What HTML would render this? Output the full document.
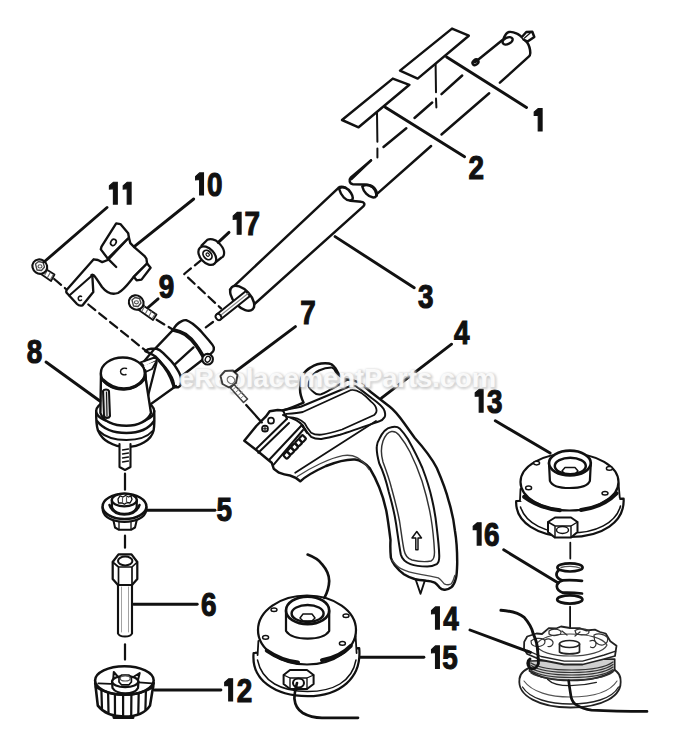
<!DOCTYPE html>
<html><head><meta charset="utf-8">
<style>
html,body{margin:0;padding:0;background:#fff;width:676px;height:750px;overflow:hidden}
svg{display:block}
.lb{font-family:"Liberation Sans",sans-serif;font-weight:bold;font-size:32.4px;fill:#111;stroke:#111;stroke-width:1.1px}
.wm{font-family:"Liberation Sans",sans-serif;font-weight:bold;font-size:26px;fill:#fff;fill-opacity:0.85}
.wmsh{font-family:"Liberation Sans",sans-serif;font-weight:bold;font-size:26px;fill:#fff;stroke:#b8b8b8;stroke-width:2px;fill-opacity:0.85;stroke-opacity:0.75}
</style></head>
<body>
<svg width="676" height="750" viewBox="0 0 676 750">
<g id="lines" fill="none" stroke="#111" stroke-width="2.46" stroke-linecap="round" stroke-linejoin="round">

<!-- ============ UPPER TUBE (part of shaft) ============ -->
<g id="uppertube">
  <!-- end cap -->
  <path d="M475,62.3 L503.4,39.2 C505,35 506.5,32.5 509,32 C511,31.6 514,32.3 517,33.7 C520,35 523,38.5 527,42.3 C529,45 530.2,50 530.3,53 C530.2,55 529.6,56 529,56.3 L499.9,82.7"/>
  <ellipse cx="475.5" cy="62.3" rx="3.2" ry="2.4" transform="rotate(-40 475.5 62.3)"/>
  <ellipse cx="507.6" cy="40.8" rx="5.3" ry="3.2" transform="rotate(-25 507.6 40.8)"/>
  <path d="M522.3,36.5 L526.3,32 L532.3,31.7 L534.3,37 L527.6,41.6 L523.5,39.5" fill="#fff"/><path d="M524.5,38 L530,33.2" stroke-width="1.23"/>
  <path d="M489.2,93.3 L441.5,134.5"/>
  <path d="M431.1,146 L376.2,194.6"/>
  <path d="M462.2,75.5 L441.5,94.2 M432.2,102.5 L414.5,118 M406.3,128.3 L383.5,147 M371,160.4 L351.4,179.1"/>
  <!-- break lobes -->
  <path d="M371,160.4 L350.9,177.4 C348.5,180 349.5,183.8 353,184.2 L364,184.5 C371,184 376,189 376.8,195.5 L376.2,194.6"/>
  <path d="M362.3,186.5 C366,183.5 373,185 376,190.5 C378,195 376,198 372.5,197.3 C368,196.5 363.5,192 362.3,186.5 Z"/>
</g>

<!-- decals -->
<path d="M452,28.6 L468.8,35.7 L417.7,78.6 L400,70.6 Z" fill="#fff"/>
<path d="M392.8,78.6 L409.4,84.8 L358.6,127.3 L342,120 Z" fill="#fff"/>
<path d="M435.6,64.2 L436,92.2 M436,98.6 L436.4,107.4" stroke-width="2"/>
<path d="M377,113 L377.4,141.8 M377.4,148.6 L377.4,157.4" stroke-width="2"/>

<!-- ============ TUBE 3 ============ -->
<g id="tube3">
  <path d="M230,289.8 L338.5,187.8 C340,186.5 343,186.5 345.7,187.8"/>
  <path d="M339,188.5 C343,185.5 348,188 351,193 C353.5,197 353.5,200 350.5,200.5 C346,201 341,196 339,188.5 Z"/>
  <path d="M350.5,200.7 L361.2,201.8 C364,202 365.5,204 363.3,206.4 L253.9,304.5"/>
  <ellipse cx="242.2" cy="298.3" rx="15.2" ry="8.3" transform="rotate(47 242.2 298.3)" fill="#fff"/>
  <!-- shaft -->
  <path d="M220.5,319.5 L250,296 L246,291 L216.5,314.5 Z" fill="#fff" stroke-width="2.13"/>
  <path d="M218.5,317 L248,293.5" stroke-width="1.01" stroke="#888"/>
  <ellipse cx="218.5" cy="317" rx="3.3" ry="2.6" transform="rotate(52 218.5 317)" fill="#fff" stroke-width="1.90"/>
</g>


<!-- ============ LEFT PARTS ============ -->
<g id="leftparts">
<!-- dashed guide lines -->
<g stroke-dasharray="9,5" stroke-width="2.24">
  <path d="M54.2,279 L66,289"/>
  <path d="M88.3,304.5 L145.7,350.7"/>
  <path d="M156.6,319.8 L172,329"/>
  <path d="M201.8,259.6 L184.2,274 L221,308.4"/>
  <path d="M213,322 L203.4,329.2"/>
  <path d="M125,473.7 L125,489.7" stroke-dasharray="none"/>
  <path d="M125,535.7 L125,547.7" stroke-dasharray="none"/>
  <path d="M125,644.4 L125,659.6" stroke-dasharray="none"/>
</g>

<!-- screw 11 -->
<g>
  <path d="M41,266 L54.5,274.5 L51,281 L38,272 Z" fill="#fff" stroke-width="1.79"/>
  <path d="M44,269 L41.5,273.5 M47,271 L44.5,275.5 M50,273 L47.5,277.5 M53,275 L50.5,279.5" stroke-width="1.12" stroke="#666" fill="none"/>
  <ellipse cx="39.8" cy="266.6" rx="7.6" ry="7" transform="rotate(35 39.8 266.6)" fill="#fff" stroke-width="2.13"/>
  <path d="M35.5,264 L38.5,261.5 L43,262.5 L44.5,267 L41.5,270.5 L37,270 Z" fill="none" stroke-width="1.34" stroke="#444"/>
  <ellipse cx="40" cy="266.4" rx="2" ry="1.6" fill="none" stroke-width="1.12" stroke="#555"/>
</g>

<!-- bracket 10 -->
<g fill="#fff" stroke-width="2.35">
  <path d="M128.9,237.5 L130.3,243.1 L134.5,247.3 L144.3,255.8 L146.4,258.6 L147.1,263.5 L133.8,276.8 C128,284 124,290 118,293 C112,295 106,292 102,287 L95.9,277.8 C94.5,275.5 92.5,274.5 91.5,275.1 L92.4,276.9 L93.3,292 L82.6,305.3 C80.5,306 78.5,305.5 77,304 L66.6,292.8 C66,291.5 66.2,290.5 67,289.5 L93.7,259.3 L97.9,260 L102.2,262.1 L107.8,260 Z"/>
  <path d="M147.1,263.5 L150.6,267.7 L141.5,279.6 L136.6,280.3 L133.8,276.8 Z"/>
  <path d="M116.2,223.4 L120.4,224.1 L128.2,233.3 L128.9,237.5 L107.8,258.6 L100.8,249.4 L101.5,246.6 Z"/>
  <path d="M107.8,258.6 L116.2,267" fill="none"/>
  <path d="M69.3,295.5 L91.5,276" fill="none" stroke-width="2.02"/>
  <ellipse cx="113.4" cy="242.4" rx="2.6" ry="3.3" transform="rotate(30 113.4 242.4)" fill="none" stroke-width="1.68"/>
  <path d="M81.5,296.5 C79.5,295.5 78,297 78.3,298.8 C78.6,300.5 80.5,301 81.5,300" fill="none" stroke-width="1.57"/>
</g>

<!-- nut 17 -->
<g fill="#fff">
  <path d="M201.5,245.6 L207.4,239.7 C210,238.5 215,239 218.6,242.7 C221,245 223.5,248 224,251.5 C224.5,255 223,257.5 221.6,257.5 L213.3,264 Z" stroke-width="2.24"/>
  <ellipse cx="207.3" cy="255.6" rx="10.8" ry="7" transform="rotate(48 207.3 255.6)" stroke-width="2.24"/>
  <ellipse cx="207.5" cy="255" rx="5.2" ry="3.8" transform="rotate(48 207.5 255)" fill="none" stroke-width="1.79"/>
  <ellipse cx="207.7" cy="254.6" rx="1.8" ry="1.4" transform="rotate(48 207.7 254.6)" fill="none" stroke-width="1.12"/>
</g>

<!-- screw 9 -->
<g>
  <path d="M138,302 L156.5,314.5 L153,320 L134.5,307 Z" fill="#fff" stroke-width="1.79"/>
  <path d="M141,304 L138.5,308.5 M144.5,306.5 L142,311 M148,309 L145.5,313.5 M151.5,311.5 L149,316 M155,314 L152.5,318" stroke-width="1.12" stroke="#666" fill="none"/>
  <ellipse cx="136.2" cy="302.5" rx="7.6" ry="7" transform="rotate(35 136.2 302.5)" fill="#fff" stroke-width="2.13"/>
  <path d="M132,300 L135,297.5 L139.5,298.5 L141,303 L138,306.5 L133.5,306 Z" fill="none" stroke-width="1.34" stroke="#444"/>
  <ellipse cx="136.4" cy="302.3" rx="2" ry="1.6" fill="none" stroke-width="1.12" stroke="#555"/>
</g>
<!-- coupling (gearhead upper) -->
<g fill="#fff">
  <!-- body cylinder -->
  <path d="M173.1,329.9 L155.9,347.9 L178.5,378.5 L202,360.2 Z" stroke="none"/>
  <path d="M173.1,329.9 L155.9,347.9 M202,360.2 L178.5,378.5 M193.5,347.4 L174.6,364.6" stroke-width="2.35"/>
  <!-- end collar -->
  <path d="M173.1,329.9 C175,326 178,323 181.3,321.4 C183,320.5 185,320 186.2,320.2 C188.5,321 190.5,322.3 192.7,323.8 C196,326.5 199,329 201.6,332 C204.5,335.5 208,339 210.6,342.5 C212,344 213.3,346 213.8,347.4 C214,349 213.8,350.5 213,351.5 C210,354.5 207.5,357 204.9,358.8 L203.2,356.4 C201,352.5 198.5,348.5 195.9,345 C193,341 189,337 185.3,334.4 C182,332.5 178,331 173.1,329.9 Z" stroke-width="2.46"/>
  <path d="M173.1,329.9 C178,331 182,332.5 185.3,334.4 C189,337 193,341 195.9,345 C198.5,348.5 201,352.5 203.2,356.4" fill="none" stroke-width="3.81"/>
  <circle cx="207.6" cy="359.2" r="5.3" stroke-width="2.13"/>
  <ellipse cx="207.8" cy="359.2" rx="2.4" ry="3" transform="rotate(30 207.8 359.2)" fill="none" stroke-width="1.34"/>
  <!-- lower collar -->
  <path d="M140.6,362.4 L156.6,356.8 L156.6,361 L144.6,367.2 Z" stroke-width="2.02"/>
  <path d="M143,366 L145.5,372 L152,369 L156.6,361" stroke-width="1.79"/>
  <path d="M145.4,370.4 L147,400 L156.6,362.4" fill="none" stroke-width="2.24"/>
  <path d="M145.4,351.2 C147,349.5 149,348.8 151,348.8 L156.6,348.8 C159,349.5 161,351 163,352.8 L171,360.8 C174,364 176,367 177.4,369.6 C179.5,373 180.8,376 181,378.4 C181.3,381 181,383.5 180.6,384.8 C180,386.5 179,387 178.2,387.2 L173.4,387.2 C174.3,385 174,383.5 173.4,381.6 C172.5,378.5 170.5,375 168.6,372 C166.5,369 164,366 161.4,363.2 C160,361 158,359 155.8,356.8 C152,354 148,352.5 145.4,351.2 Z" stroke-width="2.46"/>
  <path d="M159,360.8 C165,367 170,374 173.4,385.6" fill="none" stroke-width="2.69"/>
  <!-- arm -->
  <path d="M144.3,361 L154.3,349 M176,386 L149.5,405" fill="none" stroke-width="2.24"/>
</g>

<!-- gearhead 8 -->
<g fill="#fff">
  <!-- base rings -->
  <path d="M96.2,411 C96,420 96.5,426 98,430.5 C100.5,436 104,440 108.7,442.3 C114,445.5 120,447 126.4,447 C133,447 139,445.5 144.2,442.3 C149,439.5 152.5,435 153.6,430.5 C154.5,426 154.5,420 154.2,411 Z" stroke-width="2.4"/>
  <path d="M97,421 C104,430 114,433 126.4,433 C138,433 148,430 154,421" fill="none" stroke-width="2.4"/>
  <path d="M99,431 C106,438 116,440 126.4,440 C137,440 147,437.5 152.5,431" fill="none" stroke-width="1.9"/>
  <ellipse cx="125.2" cy="411" rx="29" ry="13" stroke-width="2.4"/>
  <!-- cylinder -->
  <path d="M101,373.7 L100.4,413 C103,421 113,425.8 126.4,425.8 C138,425.8 148,421 151,413 L145,374.3 Z" stroke-width="2.4"/>
  <ellipse cx="122.8" cy="373.3" rx="22" ry="15.8" stroke-width="2.4"/>
  <path d="M103,380 C110,387 118,389 124,389 C132,389 140,385 144,379" fill="none" stroke-width="3.3"/>
  <path d="M126.5,368.5 C124.5,367.5 120.5,368.5 120.5,371.5 C120.5,374.5 124,375.5 126,374.5" fill="none" stroke-width="1.4"/>
  <!-- slot -->
  <path d="M103,391 C104,389 108,389 109,391 L110,416 C109,418.5 105,418.5 104,416 Z" fill="#ddd" stroke-width="2.02"/>
  <path d="M106.5,392 L107,416" stroke-width="1.12" fill="none"/>
  <!-- threaded stud -->
  <path d="M119.5,444 L119.5,467 L125,470 L130.5,467 L130.5,444" stroke-width="2.1"/>
  <path d="M122.5,450 L128.5,449 M122.5,454 L128.5,453 M122.5,458 L128.5,457 M122.5,462 L128.5,461" stroke-width="1.3" fill="none"/>
</g>

<!-- washer 5 -->
<g fill="#fff">
  <path d="M112.7,517 L115,527.5 L119,529.8 L131,529.8 L135,527.5 L137.5,517 Z" stroke-width="2.02"/>
  <path d="M119,520 L119,529.5 M131,520 L131,529.5" fill="none" stroke-width="1.34"/>
  <path d="M102.6,507 L102.8,510.5 C104,517.5 113,521.8 124.5,521.8 C136,521.8 145,517.5 146.3,510.5 L146.4,507 Z" stroke-width="2.24"/>
  <ellipse cx="124.5" cy="506.4" rx="21.9" ry="12.6" stroke-width="2.46"/>
  <path d="M111.8,500 L112,507.5 C114,512 119,513.8 124.3,513.8 C130,513.8 135,512 136.7,507.5 L136.8,500 Z" stroke-width="2.24"/>
  <path d="M109.5,505 C112,512 118,514.5 124.3,514.5 C131,514.5 137,512 139.5,505" fill="none" stroke-width="2.46"/>
  <ellipse cx="124.3" cy="500" rx="12.5" ry="6.3" stroke-width="2.24"/>
  <path d="M118,499 L120,495.8 L123,497 L125.5,495.5 L128.5,497 L131,496 L132,499.5 L130,503 L127,502.5 L124.5,504.2 L121.5,502.8 L118.5,503 Z" fill="none" stroke-width="1.34"/>
  <path d="M122.5,497.5 L122.5,503 M126.5,497.5 L126.5,503" fill="none" stroke-width="1.12" stroke="#555"/>
</g>

<!-- bolt 6 -->
<g fill="#fff">
  <path d="M118,582 L118,633.5 C119.5,637.5 130.5,637.5 132,633.5 L132,582" stroke-width="2.13"/>
  <path d="M121.5,587 L121.5,632 M128.5,587 L128.5,632" stroke-width="0.90" fill="none" stroke="#999"/>
  <path d="M112.7,562 L118.5,554.3 L131.5,554.3 L137.3,562 L137.3,579 L132,585 L118,585 L112.7,579 Z" stroke-width="2.24"/>
  <path d="M112.7,562 L118.5,567 L132,567 L137.3,562 M118.5,567 L118.5,585 M132,567 L132,585" fill="none" stroke-width="1.68"/>
  <ellipse cx="125.2" cy="561" rx="7.2" ry="4.4" fill="none" stroke-width="2.02"/>
</g>

<!-- knob 12 -->
<g fill="#fff">
  <path d="M112.8,712 L113.5,718 L133.5,718 L134,712" stroke-width="1.79"/>
  <path d="M95.2,683 L97.8,705.6 C104,713.5 114,716.5 124.2,716.5 C135,716.5 145,713.5 150,705.6 L153.7,683 Z" stroke-width="2.58"/>
  <path d="M101.4,690 L102,709 M108.1,692.5 L108.5,712.5 M114.9,694 L115,714.5 M123.1,694.7 L123.1,716 M131.4,694.5 L131.2,715.5 M138.7,693.5 L138.3,713.5 M145.9,691 L145.4,710" stroke-width="2.24" fill="none"/>
  <ellipse cx="124.4" cy="680.5" rx="29.3" ry="14.2" stroke-width="2.58"/>
  <path d="M96,687 C105,693 115,694.7 124.5,694.7 C134,694.7 144,693 153,687" fill="none" stroke-width="2.69"/>
  <path d="M98.3,683.3 L110.7,683.8 M138.7,682.3 L152.1,683.3" fill="none" stroke-width="1.79"/>
  <path d="M113,682 L113.8,671.9 L118.5,677.5 M137.5,682 L139.7,673 L132.5,677.5" stroke-width="2.02"/>
  <path d="M112,681.5 L112.5,688 C115,692 120,693.3 125.2,693.3 C131,693.3 136,692 138,688 L138.5,681.5 Z" stroke-width="2.24"/>
  <ellipse cx="125.2" cy="681.5" rx="13.1" ry="5.6" stroke-width="2.24"/>
  <path d="M119,678 L121.5,675 L129,675 L131.4,678 L131.4,682 L129,684.8 L121.5,684.8 L119,682 Z" stroke-width="1.68"/>
  <ellipse cx="125.2" cy="678.5" rx="5" ry="2.5" fill="none" stroke-width="1.23" stroke="#555"/>
</g>
</g>


<!-- ============ HANDLE 4 + SCREW 7 ============ -->
<g id="handle" fill="#fff">
  <path d="M414.5,576 L420.5,593.8 L426,577" stroke-width="1.90"/>
  <path d="M244.3,440.7 L256.3,426 L265.7,416.7 L269.7,411.3 L277.7,410 L283,410.5 C290,408.5 297,405.5 303.5,402.6 C300,395 299.5,390 300.4,386.1 C300.5,381 301,378 302.4,375.7 C305,371 308,369 310.7,367.4 C315,364.5 320,363.3 325.2,363.3 C328,363.3 330,363.5 331.4,364.3 C333,365.5 334.5,367 335.6,368.5 C337,371 338.5,373.5 339.7,375.7 C341.5,377.5 343.5,378.8 345.9,379.3 C348,379.7 350,379.9 352.1,379.9 C356,381 359,382.5 363,385.3 L371.1,392.3 L389.8,406.8 C394,410 399,416 404.2,423.3 L414.6,437.8 C422,446 430,455 436.8,468 C442,480 446,490 448.9,501.7 C452,512 454,522 454.9,530.5 C456.5,540 457.3,550 457.2,563.7 C457,570 456.8,575 456,577.9 C455,582 453.5,585.5 451.3,587.3 C449,589 446.5,590 444.2,589.7 C442,589.5 440.5,588.5 439.4,587.3 C438,585.5 436.5,583.5 434.7,582.6 C432,581.5 429.5,581 426.4,580.8 C422,580.3 418,579.8 414.6,579 C410.5,577.8 407,576.3 403.9,574.3 C400,571.5 397,568 394.5,564.9 C392.5,562 391.5,560 390.9,557.8 C390.3,552 390.2,546 390.5,540 C389,528 388,520 386.4,511.3 C384,500 382,494 379.2,487.2 C376,479 372,472 369.6,468 C365,463 360,460 355,459.5 C345,459 336,462 326,466 C315,471 306,476 300.3,481.3 C298,479 295,477 290,475.5 C285,475 282,474 279,472.7 L273.7,468.7 L271.7,462.7 L256.3,450 Z" stroke-width="2.46"/>
  <!-- loop hole -->
  <path d="M308.6,386.1 C308.5,383 309.5,380 310.7,377.8 C313,374 316,372 319,370.5 C323,368.5 328,367.4 331.4,367.4 C333.5,368 335,370 335.6,371.6 C338,375 342,378 347,379.9 C342,383 336,386.5 331.4,389.2 C327,391.5 324,393.5 321.1,394.3 C317.5,395 315,393.5 313.8,392.3 C311,390 309,388 308.6,386.1 Z" stroke-width="2.02"/>
  <!-- window outer -->
  <path d="M283.1,409.9 C290,409 296,408 300.7,406.8 L350.4,386 C353,385 356,386 358.7,388.1 L372.2,398.5 C377,402 381,405 383.5,408.8 C385.5,412 385.5,416 384.6,417.1 C383,419.5 381,421 379.4,421.3 C366,426 352,431 340,434.7 C333,436.5 327,438 321.4,438.9 C317,439 314,438.5 311.1,436.8 C307,433 305,429 302.8,425.4 C298,420 290,417 283,415" fill="none" stroke-width="2.02"/>
  <!-- window inner -->
  <path d="M286.2,414 C292,413.5 298,413 302.8,412 L350.4,390.2 C355,389 362,392 371.1,401.6 C374,404 376,406 376.3,408.8 C377,411 376,413.5 374.2,415 C363,420 352,425 342.1,429.5 C334,432 327,434 321.4,434.7 C317,435 314,434.5 311.1,432.7 C308,429 306,426 304.8,423.3 C300,419 294,417 288.3,417.1" stroke-width="1.79"/>
  <!-- lower arm line -->
  <path d="M295.2,472.8 L376,421" fill="none" stroke-width="1.79"/>
  <path d="M297.3,476.5 C310,468 330,458 342.8,455.6 C348,454.8 353,455.3 357.3,457.6 C362,460.5 366,464.5 369,469.5" fill="none" stroke-width="1.34" stroke="#444"/>
  <!-- grip panel outer -->
  <path d="M379.2,439.2 C382,433 386,428 391.2,427.2 C395,426.5 398,427 399.6,428.4 C403,432 406,436 408,439.2 C414,450 419,460 422.4,468 C427,480 430,490 432,499.2 C434.5,510 436,520 436.8,528.1 C438,538 439,548 439.2,554.5 C439.5,560 438.5,563 436.8,564.1 C432,566.5 430,566.5 427.2,566.5 C420,566.5 414,565.5 410.4,564.1 C405,562 402,559 400.8,554.5 C399,545 397.5,533 396,523.3 C394,510 391,500 388.8,492 C386,480 383,471 379.2,463.2 C377.5,457 376.5,450 376.8,446.4 C377,443 378,441 379.2,439.2 Z" stroke-width="2.02"/>
  <path d="M383,441 C385,436 388,432 391.5,431.5 C395,431 397,432.5 399,435 C403,440 407,446 410,452 C415,462 419,472 422,481 C426,494 429,506 431,518 C433,530 434,542 434.5,552 C434.5,557 433.5,560 431,561 C426,562 418,561.5 412,560 C407,558.5 405,555 404,550 C402,540 401,530 399.5,521 C397,508 394,497 391.5,488 C389,478 386,470 383,462 C381,455 381,447 383,441 Z" fill="none" stroke-width="1.46" stroke="#333"/>
  <!-- arrow -->
  <path d="M415.8,549.7 L415.8,538 L412,538 L416.8,531.5 L421.5,538 L418,538 L418,549.7 Z" fill="none" stroke-width="1.46"/>
  <!-- double bottom line -->
  <path d="M392.1,560.1 C395,564 397,566.5 400.4,568.4 C406,571.5 412,573 420.5,574.3 C428,575.5 433,576.5 438.3,577.9 C441,579.5 442.5,582 444.2,583.8 C447,585 449.5,585 451.3,583.8 C453,581.5 454,578.5 454.8,575.5" fill="none" stroke-width="1.34" stroke="#444"/>
  <!-- clamp block details -->
  <path d="M256.3,448.7 L287,418.7 M258.3,452.7 L289,423 M269.7,459.3 L301.7,425.3 M273.7,464.7 L303,430" fill="none" stroke-width="2.02"/>
  <path d="M283,410.5 L287,418.7 M301.7,425.3 L307,433" fill="none" stroke-width="2.02"/>
  <g stroke-width="2.24" fill="#fff">
  <rect x="284.1" y="452.5" width="5.4" height="5.4" rx="1.2" transform="rotate(-45 286.8 455.2)"/>
  <rect x="288.0" y="448.4" width="5.4" height="5.4" rx="1.2" transform="rotate(-45 290.7 451.1)"/>
  <rect x="291.9" y="444.3" width="5.4" height="5.4" rx="1.2" transform="rotate(-45 294.6 447.0)"/>
  <rect x="295.9" y="440.1" width="5.4" height="5.4" rx="1.2" transform="rotate(-45 298.6 442.8)"/>
  <rect x="299.8" y="436.0" width="5.4" height="5.4" rx="1.2" transform="rotate(-45 302.5 438.7)"/>
</g>
  <circle cx="271" cy="420.7" r="3" fill="none" stroke-width="1.68"/>
  <circle cx="265" cy="428.7" r="3" fill="none" stroke-width="1.68"/>
  <path d="M262.5,428.7 L267.5,428.7 M265,426.2 L265,431.2" stroke-width="1.12" fill="none"/>
</g>

<path d="M246.2,405 L261.8,422.4" stroke-width="2.24" fill="none"/>


<!-- ============ RIGHT PARTS ============ -->
<g id="rightparts" fill="#fff">
<!-- dashed center line 13/16/14 -->
<path d="M570.3,542.6 L570.3,558.6 M570.1,606.7 L570.1,641.3" stroke-width="1.79" fill="none"/>

<!-- part 13 -->
<g>
  <path d="M516.2,501 C515,522 538,537 570,537 C602,537 625,522 623.6,498.6 Z" stroke-width="2.24"/>
  <path d="M520.5,507 C526,524 546,533 570,533 C596,533 616,523 620.5,506" fill="none" stroke-width="1.57"/>
  <path d="M520.7,488 L520.2,500 C528,512 548,518 570,518 C592,518 612,511 619.8,499 L618.5,482 Z" stroke="none"/>
  <path d="M520.5,489 L520,500 M618.5,483 L619.8,498" fill="none" stroke-width="1.79"/>
  <ellipse cx="569.5" cy="482" rx="49" ry="28.5" stroke-width="2.24"/>
  <path d="M524.2,496.8 C534,504 548,509 560,510.3 M581,510 C596,508 608,502 616.5,493.3" fill="none" stroke-width="4.03"/>
  <!-- boss -->
  <path d="M549,463 L549.9,480.8 C552,486 560,488 569.5,488 C580,488 588,486 589.9,480.8 L590.8,463 Z" stroke-width="2.24"/>
  <ellipse cx="569.9" cy="463.1" rx="20.9" ry="12.4" stroke-width="2.69"/>
  <ellipse cx="570.3" cy="466" rx="15.5" ry="8.2" fill="none" stroke-width="2.46"/>
  <path d="M562,471 L565,467.5 L575,467.5 L578,471 L575,474 L565,474 Z" fill="none" stroke-width="1.46"/>
  <!-- holes -->
  <ellipse cx="536.6" cy="463.1" rx="3" ry="1.8" stroke-width="1.46"/>
  <ellipse cx="609.4" cy="468.4" rx="3" ry="1.8" stroke-width="1.46"/>
  <ellipse cx="528.6" cy="487.9" rx="3" ry="1.8" stroke-width="1.46"/>
  <ellipse cx="605" cy="493.3" rx="3" ry="1.8" stroke-width="1.46"/>
  <!-- hex nut -->
  <path d="M548,522 L555,517.5 L571,517.5 L577.5,522 L577.5,532 L571,537.6 L555,537.6 L548,532 Z" stroke-width="2.02"/>
  <path d="M548,522 L555,526 L571,526 L577.5,522 M555,526 L555,537.6 M571,526 L571,537.6" fill="none" stroke-width="1.46"/>
  <ellipse cx="562.5" cy="530" rx="6" ry="3.5" fill="none" stroke-width="1.46"/>
</g>

<!-- spring 16 -->
<g fill="none">
  <ellipse cx="570" cy="567.4" rx="12.6" ry="4.1" stroke-width="2.69"/>
  <path d="M561,567.5 C566,566 575,566 580,568" stroke-width="1.34" stroke="#555"/>
  <path d="M559,570 C555,573 555.5,578 562,580.3 C568,580 576,580 582,580.9" stroke-width="2.69"/>
  <path d="M562,580.8 C555,583 555,590 562.8,592.7 C569,592.5 576,592.8 582,593.5" stroke-width="2.69"/>
  <ellipse cx="569.8" cy="599.5" rx="12.6" ry="4.1" stroke-width="2.69"/>
</g>

<!-- spool 14 -->
<g stroke="#222">
  <!-- bowl -->
  <path d="M519.5,679 C517,696 540,707.5 570.3,707.5 C601,707.5 623,697 620.5,679 C620,668 600,661 570,661 C540,661 520,668 519.5,679 Z" stroke-width="1.79"/>
  <path d="M522.5,687 C530,699 550,704 570.3,704 C592,704 612,699 618.5,687" fill="none" stroke-width="1.34"/>
  <path d="M524,681 C532,692 550,697 570.3,697 C592,697 610,692 617,681" fill="none" stroke-width="1.12" stroke="#555"/>
  <path d="M547.5,679.2 C552,684 560,685.7 570.3,685.7 C580,685.7 590,684 596.4,682.4" fill="none" stroke-width="1.34"/>
  <!-- wound line band -->
  <path d="M529.5,661 L529.5,671 C540,678 555,680.5 570,680.5 C590,680.5 605,677 614.7,670 L614.7,659 Z" stroke-width="1.68" fill="#cfcfcf"/>
  <path d="M531,663 C545,672 598,673 613,662 M531,665.5 C545,674.5 598,675.5 613,664.5 M531,668 C545,677 598,678 613,667 M531,670.5 C545,679.5 598,680.5 613,669.5 M531,673 C545,682 598,683 613,672" fill="none" stroke-width="1.23" stroke="#333"/>
  <!-- top plate -->
  <path d="M524.2,641.9 L527.2,636.5 L536.5,633.5 L542,634 L548.8,628.1 L556,628.5 L561,626.5 L570,628 L579.5,628.1 L586,630.5 L594.9,629.6 L600,632 L605.7,633.5 L610.3,641.2 L616.5,645.8 L615.7,651.2 L615,656 L604.2,659 L582.6,664.5 L564.2,664.5 L541.1,660 L527.2,654 L524,649 Z" stroke-width="1.79"/>
  <path d="M527.2,650.4 L541.1,656.5 L564.2,661.2 L582.6,661.2 L604.2,655 L615.7,651.2" fill="none" stroke-width="1.34"/>
  <path d="M536,645 C540,638 552,634 570,634 C588,634 603,638 607,645 C604,652 588,656 570,656 C552,656 539,652 536,645 Z" fill="none" stroke-width="1.23" stroke="#444"/>
  <path d="M549,631 C552,628.5 557,628.5 560,630.5 C562,632 561,634.5 558,635 C554,636 551,635.5 549,634 Z M575,630.5 C578,628.5 584,628.5 588,630 C590,631.5 589,634 586,634.5 C582,635 578,635 576,633.5 Z M594,635 C598,633 604,634 607,637 C609,640 607,644 603,645 C599,645.5 596,643 594.5,640 Z M531,641 C534,638 540,637.5 544,639.5 C546,641.5 545,645 541,646 C537,647 533,646 531.5,644 Z M545,640 C548,638 552,639 553,642 C553.5,645 551,647 548,646.5 M590,641 C593,639.5 596,641 596,644 C596,647 593,648.5 590.5,647 M562,631 L567,635 M580,632 L575,636" fill="none" stroke-width="1.23" stroke="#333"/>
  <path d="M563,645 L563,652 M567,646 L567,653 M572,646 L572,653 M576,645 L576,652" fill="none" stroke-width="1.34" stroke="#222"/>
  <path d="M559.5,644 L559.5,652 C563,654.5 576,654.5 579.5,652 L579.5,644" stroke-width="1.68"/>
  <ellipse cx="569.5" cy="644" rx="10" ry="3.5" stroke-width="1.68"/>
</g>
<!-- line 14 -->
<path d="M500.9,610.3 C512,611 520,614 524.2,617.4 C529,623 532,628 533.1,633.4 C536,640 537.5,645 537.5,649.4 C538,655 538.4,660 538.4,663.6 C537,668 533,670 530,668 C527,665 527,661 530,659" fill="none" stroke-width="2.91"/>
<path d="M568.7,680.8 C569.5,688 570.5,693 571.1,697.1 C572,701 574,703.5 576.8,705.2 C581,708 586,709.5 591.5,710.1 C610,711 630,711.3 647,711.4" fill="none" stroke-width="2.69"/>

<!-- spool 15 -->
<g>
  <path d="M253.6,653 C251,680 275,696 307.6,696.2 C340,696 362,678 359.2,648.2 Z" stroke-width="2.24"/>
  <path d="M257.5,660 C262,682 282,691.5 307.6,691.5 C333,691.5 352,682 356,660" fill="none" stroke-width="1.46"/>
  <path d="M258.4,641 L257.5,655 C265,668 285,676 307,676 C330,676 350,668 356.5,655 L355.6,636.2 Z" stroke="none"/>
  <path d="M258.4,641 L257.6,655 M355.6,636 L356.6,653" fill="none" stroke-width="1.79"/>
  <ellipse cx="307" cy="630" rx="49" ry="34.5" stroke-width="2.24"/>
  <path d="M266.8,650.6 C276,657 286,661 298,662.6 M322,660.2 C334,658 344,653 350.8,645.8" fill="none" stroke-width="4.03"/>
  <!-- boss -->
  <path d="M286,611 L286,631 C290,637 298,638.6 307.6,638.6 C318,638.6 326,636 329.2,631 L329.2,611 Z" stroke-width="2.24"/>
  <ellipse cx="307.6" cy="610.4" rx="21.6" ry="13.8" stroke-width="2.69"/>
  <ellipse cx="307.6" cy="613.5" rx="16" ry="8.5" fill="none" stroke-width="2.46"/>
  <path d="M300,618 L303,614 L312,614 L315,618 L312,621 L303,621 Z" fill="none" stroke-width="1.46"/>
  <ellipse cx="274" cy="609.8" rx="3" ry="1.8" stroke-width="1.46"/>
  <ellipse cx="346" cy="615.8" rx="3" ry="1.8" stroke-width="1.46"/>
  <ellipse cx="265.6" cy="637.4" rx="3" ry="1.8" stroke-width="1.46"/>
  <ellipse cx="342.4" cy="643.4" rx="3" ry="1.8" stroke-width="1.46"/>
<!-- eyelet -->
  <path d="M283.6,675 L290,670 L307,670 L313.6,675 L313.6,684 L307,689 L290,689 L283.6,684 Z" stroke-width="2.02"/>
  <path d="M283.6,675 L290,678 L307,678 L313.6,675 M290,678 L290,689 M307,678 L307,689" fill="none" stroke-width="1.34"/>
  <ellipse cx="298.5" cy="683" rx="5.5" ry="4.5" stroke-width="2.02"/>
</g>
<path d="M307.6,554.6 C314,557 319,560 322,564.2 C327,570 329.2,575 329.2,581 C329,588 327,593 324.4,597.8" fill="none" stroke-width="2.69"/>
<path d="M297,683 C295.6,688 294.4,693 294.4,698.6 C295,705 298,710 302.8,713 C308,716 315,717.8 322,717.8 L358,717.8" fill="none" stroke-width="2.69"/>
</g>

<!-- ============ LEADERS ============ -->
<path stroke-width="2.91" d="M446.6,57 L526.5,107.5"/>
<path stroke-width="2.91" d="M385.3,107.2 L464.6,156.8"/>
<path stroke-width="2.91" d="M335.1,236.6 L414.2,287.8"/>
<path stroke-width="2.91" d="M451.6,344.2 L381.4,398.1"/>
<path stroke-width="2.91" d="M295.4,326.6 L233.3,373.2"/>
<path stroke-width="2.91" d="M107,207.5 L44,262"/>
<path stroke-width="2.91" d="M193.7,199 L134.2,246.7"/>
<path stroke-width="2.91" d="M229,232.4 L218.3,242.4"/>
<path stroke-width="2.91" d="M158.1,298.9 L148.1,307.5"/>
<path stroke-width="2.91" d="M46,362 L99.9,401"/>
<path stroke-width="2.91" d="M147,510.2 L215,510.2"/>
<path stroke-width="2.91" d="M133.6,604.2 L197.2,604.2"/>
<path stroke-width="2.91" d="M154.3,690 L220.9,690"/>
<path stroke-width="2.91" d="M360.4,657.2 L423.9,657.2"/>
<path stroke-width="2.91" d="M495.3,420.8 L550.1,453.1"/>
<path stroke-width="2.91" d="M503.7,549.8 L558.3,583.1"/>
<path stroke-width="2.91" d="M470,630 L530.4,652.4"/>
</g>

<!-- ============ LABELS ============ -->
<g class="lb">
<text transform="translate(468.5,179.4) scale(0.86,1)">2</text>
<text transform="translate(418.1,308.0) scale(0.86,1)">3</text>
<text transform="translate(454.1,344.0) scale(0.86,1)">4</text>
<text transform="translate(216.5,521.2) scale(0.86,1)">5</text>
<text transform="translate(201.0,615.5) scale(0.86,1)">6</text>
<text transform="translate(300.3,324.3) scale(0.86,1)">7</text>
<text transform="translate(26.7,362.8) scale(0.86,1)">8</text>
<text transform="translate(158.7,297.9) scale(0.86,1)">9</text>
<path d="M538.2,108.6 L542.1,108.6 L542.1,130.9 L538.2,130.9 L538.2,115.2 L534.2,115.5 L534.2,112.1 Z"/>
<path d="M199.6,172.9 L203.5,172.9 L203.5,195.0 L199.6,195.0 L199.6,179.5 L195.6,179.8 L195.6,176.4 Z"/>
<text transform="translate(207.0,195.5) scale(0.86,1)">0</text>
<path d="M228.7,678.8 L232.6,678.8 L232.6,701.0 L228.7,701.0 L228.7,685.4 L224.7,685.7 L224.7,682.3 Z"/>
<text transform="translate(236.8,701.5) scale(0.86,1)">2</text>
<path d="M479.2,389.3 L483.1,389.3 L483.1,412.1 L479.2,412.1 L479.2,395.9 L475.2,396.2 L475.2,392.8 Z"/>
<text transform="translate(487.0,412.6) scale(0.86,1)">3</text>
<path d="M435.5,606.9 L439.4,606.9 L439.4,629.1 L435.5,629.1 L435.5,613.5 L431.5,613.8 L431.5,610.4 Z"/>
<text transform="translate(443.3,629.6) scale(0.86,1)">4</text>
<path d="M435.5,645.9 L439.4,645.9 L439.4,668.4 L435.5,668.4 L435.5,652.5 L431.5,652.8 L431.5,649.4 Z"/>
<text transform="translate(442.3,668.9) scale(0.86,1)">5</text>
<path d="M477.2,522.8 L481.1,522.8 L481.1,545.1 L477.2,545.1 L477.2,529.4 L473.2,529.7 L473.2,526.3 Z"/>
<text transform="translate(484.1,545.6) scale(0.86,1)">6</text>
<path d="M237.2,212.4 L241.1,212.4 L241.1,234.2 L237.2,234.2 L237.2,219.0 L233.2,219.3 L233.2,215.9 Z"/>
<text transform="translate(244.4,234.7) scale(0.86,1)">7</text>
<path d="M113.4,182.2 L117.3,182.2 L117.3,204.1 L113.4,204.1 L113.4,188.8 L109.4,189.1 L109.4,185.7 Z"/>
<path d="M127.2,182.2 L131.1,182.2 L131.1,204.1 L127.2,204.1 L127.2,188.8 L123.2,189.1 L123.2,185.7 Z"/>
</g>

<defs><filter id="wmblur" x="-5%" y="-30%" width="110%" height="160%"><feGaussianBlur stdDeviation="0.9"/></filter></defs>
<text class="wmsh" transform="translate(180,387.5) scale(1.05,1)" filter="url(#wmblur)">eReplacementParts.com</text>
<text class="wm" transform="translate(179,386.5) scale(1.05,1)">eReplacementParts.com</text>
<!-- screw 7 -->
<g fill="#fff" stroke="#111" stroke-linecap="round" stroke-linejoin="round" opacity="0.8">
  <path d="M234,384.5 L247.5,399 L243.5,402.5 L230.5,388 Z" stroke-width="1.6"/>
  <path d="M233.5,389 L237,386 M236,392 L239.5,389 M238.5,395 L242,392 M241,398 L244.5,395" stroke-width="1" stroke="#666" fill="none"/>
  <path d="M220.5,376 L225,371 L233,370.5 L237.5,375 L236,383 L229,387.5 L222.5,384 Z" stroke-width="1.9"/>
  <ellipse cx="231" cy="380" rx="4" ry="3.4" transform="rotate(45 231 380)" fill="none" stroke-width="1.3" stroke="#555"/>
</g>

</svg>
</body></html>
